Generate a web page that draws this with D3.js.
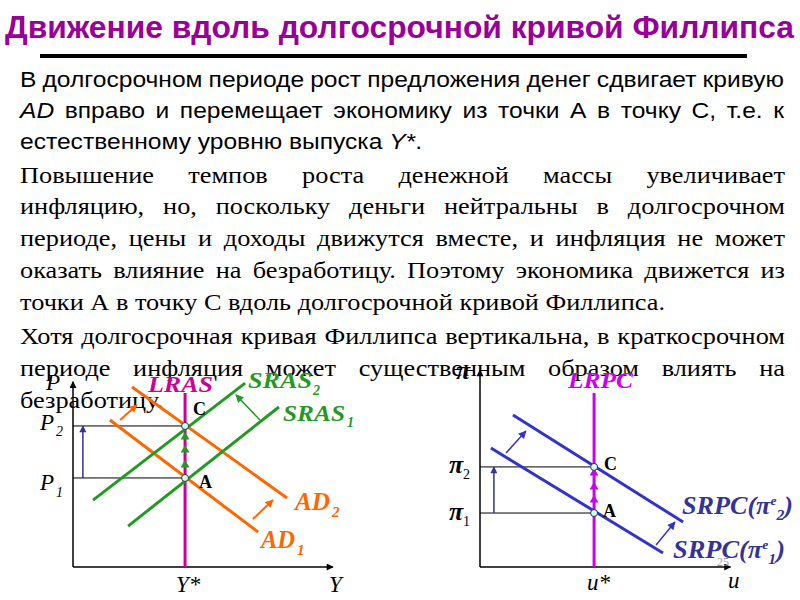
<!DOCTYPE html>
<html>
<head>
<meta charset="utf-8">
<script src="https://cdn.jsdelivr.net/npm/d3@7"></script>
<style>
  html, body { margin: 0; padding: 0; background: #fff; }
  svg { display: block; }
</style>
</head>
<body>
<svg id="slide" width="800" height="600"></svg>
<script>
// slide text
const titleText = 'Движение вдоль долгосрочной кривой Филлипса'
const para1 = [
  'В долгосрочном периоде рост предложения денег сдвигает кривую',
  '{AD} вправо и перемещает экономику из точки А в точку С, т.е. к',
  'естественному уровню выпуска {Y*}.'
]
const para2 = [
  'Повышение темпов роста денежной массы увеличивает',
  'инфляцию, но, поскольку деньги нейтральны в долгосрочном',
  'периоде, цены и доходы движутся вместе, и инфляция не может',
  'оказать влияние на безработицу. Поэтому экономика движется из',
  'точки А в точку С вдоль долгосрочной кривой Филлипса.'
]
const para3 = [
  'Хотя долгосрочная кривая Филлипса вертикальна, в краткосрочном',
  'периоде инфляция может существенным образом влиять на',
  'безработицу.'
]

// AD-AS diagram (units 0..100 on both axes)
const yStar = 43.1
const p1 = 45.9
const p2 = 72.7
const lrasTop = 89.7
const ad1 = [[14.2, 75.8], [71.2, 18.0]]
const ad2 = [[22.7, 92.8], [82.3, 35.6]]
const sras1 = [[21.2, 21.1], [79.2, 82.5]]
const sras2 = [[7.7, 34.5], [66.2, 94.8]]
const adShifts = [[[18.1, 75.8], [24.6, 83.5]], [[69.2, 24.7], [76.9, 34.5]]]
const srasShift = [[71.9, 75.8], [62.7, 88.7]]
const lrasSteps = [52.6, 60.3, 67.0]

// Phillips diagram (units 0..100 on both axes)
const uStar = 46.0
const pi1 = 27.4
const pi2 = 50.8
const lrpcTop = 88.3
const srpc1 = [[4.4, 60.4], [73.8, 7.1]]
const srpc2 = [[13.3, 77.2], [81.9, 22.8]]
const srpcShifts = [[[10.5, 57.9], [18.5, 69.0]], [[71.0, 11.2], [78.6, 22.8]]]
const lrpcSteps = [34.0, 40.6, 47.7]

const ORANGE = '#ff6600'
const GREEN = '#229a22'
const LRAS_C = '#cc0099'
const LRPC_C = '#cc00ee'
const BLUE = '#3333cc'
const NAVY = '#333399'

const svg = d3.select('#slide')
const defs = svg.append('defs')

function marker(id, color, w, h) {
  defs.append('marker')
    .attr('id', id)
    .attr('viewBox', '0 0 10 10')
    .attr('refX', 9).attr('refY', 5)
    .attr('markerUnits', 'userSpaceOnUse')
    .attr('markerWidth', w).attr('markerHeight', h)
    .attr('orient', 'auto')
    .append('path')
    .attr('d', 'M0,0 L10,5 L0,10 Z')
    .attr('fill', color)
}
marker('arrBlack', '#000', 9, 7)
marker('arrOrange', ORANGE, 10, 8)
marker('arrGreen', GREEN, 10, 8)
marker('arrNavy', NAVY, 9, 7)
marker('arrBlue', BLUE, 10, 8)

// title
svg.append('text')
  .attr('x', 5).attr('y', 38)
  .attr('textLength', 789).attr('lengthAdjust', 'spacingAndGlyphs')
  .style('font-family', '"Liberation Sans", Arial, sans-serif')
  .style('font-weight', 'bold')
  .style('font-size', '32px')
  .style('fill', '#990099')
  .text(titleText)

svg.append('rect')
  .attr('x', 40).attr('y', 54).attr('width', 707).attr('height', 4)
  .attr('fill', '#000')

// word with {italic} parts
function fillWord(sel, word) {
  word.split(/(\{[^}]*\})/).filter(s => s.length).forEach(function (part) {
    if (part[0] === '{') {
      sel.append('tspan').style('font-style', 'italic').text(part.slice(1, -1))
    } else {
      sel.append('tspan').text(part)
    }
  })
}

function drawParagraph(lines, baselines, o) {
  const g = svg.append('g')
    .style('font-family', o.font)
    .style('font-size', o.size + 'px')
    .style('fill', '#000')
  const full = o.x1 - o.x0

  // horizontal scale taken from the last (non-justified) line
  const probe = g.append('text').attr('x', o.x0).attr('y', -100)
  fillWord(probe, lines[lines.length - 1])
  let sx = (o.lastEnd - o.x0) / probe.node().getComputedTextLength()
  if (o.sx) sx = o.sx
  probe.remove()

  lines.forEach(function (line, i) {
    const y = baselines[i]
    if (i === lines.length - 1) {
      const t = g.append('text').attr('x', o.x0).attr('y', y)
      fillWord(t, line)
      const w = t.node().getComputedTextLength()
      t.attr('textLength', w * sx).attr('lengthAdjust', 'spacingAndGlyphs')
      return
    }
    const words = line.split(' ')
    const nodes = words.map(function (w) {
      const t = g.append('text').attr('y', y)
      fillWord(t, w)
      return { t: t, w: t.node().getComputedTextLength() }
    })
    const sum = d3.sum(nodes, d => d.w)
    let k = sx
    let gap = (full - sum * k) / (words.length - 1)
    if (gap < 0.22 * o.size) {
      gap = 0.22 * o.size
      k = (full - gap * (words.length - 1)) / sum
    }
    let x = o.x0
    nodes.forEach(function (d) {
      d.t.attr('x', x)
        .attr('textLength', d.w * k)
        .attr('lengthAdjust', 'spacingAndGlyphs')
      x += d.w * k + gap
    })
  })
  return sx
}

const sansFont = '"Liberation Sans", Arial, sans-serif'
const serifFont = '"Liberation Serif", "Times New Roman", serif'
drawParagraph(para1, [87, 118, 149], { font: sansFont, size: 22, x0: 20, x1: 784, lastEnd: 422 })
const serifSx = drawParagraph(para2, [183, 214, 246, 278, 310], { font: serifFont, size: 23, x0: 20, x1: 785, lastEnd: 665 })
drawParagraph(para3, [344, 376, 408], { font: serifFont, size: 23, x0: 20, x1: 785, lastEnd: 162, sx: serifSx })

// helpers for diagrams
function label(g, x, y, main, sub, o) {
  const t = g.append('text')
    .attr('x', x).attr('y', y)
    .style('font-family', serifFont)
    .style('font-size', o.size + 'px')
    .style('font-style', o.italic ? 'italic' : 'normal')
    .style('font-weight', o.bold ? 'bold' : 'normal')
    .style('fill', o.color || '#000')
  t.append('tspan').text(main)
  if (o.len) t.attr('textLength', o.len).attr('lengthAdjust', 'spacingAndGlyphs')
  if (sub) {
    g.append('text')
      .attr('x', o.subX).attr('y', y + (o.subDy || 6))
      .style('font-family', serifFont)
      .style('font-size', (o.subSize || 14) + 'px')
      .style('font-style', o.subItalic === false ? 'normal' : (o.italic ? 'italic' : 'normal'))
      .style('font-weight', o.subBold === false ? 'normal' : (o.bold ? 'bold' : 'normal'))
      .style('fill', o.color || '#000')
      .text(sub)
  }
  return t
}

function seg(g, x, y, pts, color, width, mk) {
  const l = g.append('line')
    .attr('x1', x(pts[0][0])).attr('y1', y(pts[0][1]))
    .attr('x2', x(pts[1][0])).attr('y2', y(pts[1][1]))
    .attr('stroke', color).attr('stroke-width', width)
  if (mk) l.attr('marker-end', 'url(#' + mk + ')')
  return l
}

function axes(g, x, y, xEnd, yEnd) {
  seg(g, x, y, [[0, 0], [xEnd, 0]], '#000', 1.5, 'arrBlack')
  seg(g, x, y, [[0, 0], [0, yEnd]], '#000', 1.5, 'arrBlack')
}

function pointMark(g, cx, cy) {
  g.append('circle').attr('cx', cx).attr('cy', cy).attr('r', 3.5)
    .attr('fill', '#ccffff').attr('stroke', '#333').attr('stroke-width', 1)
}

// ---------- AD-AS diagram ----------
const xL = d3.scaleLinear().domain([0, 100]).range([73, 333])
const yL = d3.scaleLinear().domain([0, 100]).range([567, 373])
const gL = svg.append('g')

seg(gL, xL, yL, [[0, p2], [yStar, p2]], '#000', 1)
seg(gL, xL, yL, [[0, p1], [yStar, p1]], '#000', 1)
seg(gL, xL, yL, [[3.8, p1], [3.8, p2]], NAVY, 1.5, 'arrNavy')
axes(gL, xL, yL, 100, 95.5)

seg(gL, xL, yL, [[yStar, 0], [yStar, lrasTop]], LRAS_C, 3)
seg(gL, xL, yL, ad1, ORANGE, 3)
seg(gL, xL, yL, ad2, ORANGE, 3)
seg(gL, xL, yL, sras1, GREEN, 3)
seg(gL, xL, yL, sras2, GREEN, 3)
adShifts.forEach(a => seg(gL, xL, yL, a, ORANGE, 2, 'arrOrange'))
seg(gL, xL, yL, srasShift, GREEN, 1.5, 'arrGreen')

gL.selectAll('.step').data(lrasSteps).enter().append('path')
  .attr('class', 'step')
  .attr('d', d3.symbol(d3.symbolTriangle, 34))
  .attr('transform', d => 'translate(' + xL(yStar) + ',' + yL(d) + ')')
  .attr('fill', GREEN)

pointMark(gL, xL(yStar), yL(p2))
pointMark(gL, xL(yStar), yL(p1))

label(gL, 193, 415, 'C', null, { size: 18, bold: true })
label(gL, 199, 488, 'A', null, { size: 18, bold: true })
label(gL, 46, 390, 'P', null, { size: 23, italic: true })
label(gL, 40, 430, 'P', '2', { size: 23, italic: true, subX: 56, subDy: 6, subSize: 14 })
label(gL, 40, 490, 'P', '1', { size: 23, italic: true, subX: 56, subDy: 7, subSize: 14 })
label(gL, 176, 592, 'Y*', null, { size: 23, italic: true })
label(gL, 329, 592, 'Y', null, { size: 23, italic: true })
label(gL, 148, 392, 'LRAS', null, { size: 23, italic: true, bold: true, color: LRAS_C, len: 65 })
label(gL, 248, 388, 'SRAS', '2', { size: 23, italic: true, bold: true, color: GREEN, len: 64, subX: 313, subDy: 7, subSize: 14 })
label(gL, 283, 421, 'SRAS', '1', { size: 23, italic: true, bold: true, color: GREEN, len: 62, subX: 347, subDy: 6, subSize: 14 })
label(gL, 295, 510, 'AD', '2', { size: 25, italic: true, bold: true, color: ORANGE, len: 35, subX: 332, subDy: 7, subSize: 15 })
label(gL, 261, 548, 'AD', '1', { size: 25, italic: true, bold: true, color: ORANGE, len: 34, subX: 297, subDy: 7, subSize: 15 })

// ---------- Phillips diagram ----------
const xR = d3.scaleLinear().domain([0, 100]).range([480, 728])
const yR = d3.scaleLinear().domain([0, 100]).range([567, 370])
const gR = svg.append('g')

seg(gR, xR, yR, [[0, pi2], [uStar, pi2]], '#000', 1)
seg(gR, xR, yR, [[0, pi1], [uStar, pi1]], '#000', 1)
seg(gR, xR, yR, [[5.6, pi1], [5.6, pi2]], NAVY, 1.5, 'arrNavy')
axes(gR, xR, yR, 101, 100)

seg(gR, xR, yR, [[uStar, 0], [uStar, lrpcTop]], LRPC_C, 3)
seg(gR, xR, yR, srpc1, BLUE, 3)
seg(gR, xR, yR, srpc2, BLUE, 3)
srpcShifts.forEach(a => seg(gR, xR, yR, a, BLUE, 1.5, 'arrBlue'))

gR.selectAll('.step').data(lrpcSteps).enter().append('path')
  .attr('class', 'step')
  .attr('d', d3.symbol(d3.symbolTriangle, 34))
  .attr('transform', d => 'translate(' + xR(uStar) + ',' + yR(d) + ')')
  .attr('fill', LRPC_C)

pointMark(gR, xR(uStar), yR(pi2))
pointMark(gR, xR(uStar), yR(pi1))

label(gR, 604, 470, 'C', null, { size: 18, bold: true })
label(gR, 603, 517, 'A', null, { size: 18, bold: true })
label(gR, 456, 379, 'π', null, { size: 26, italic: true, bold: true })
label(gR, 449, 473, 'π', '2', { size: 26, italic: true, bold: true, subX: 463, subDy: 0, subSize: 14, subBold: false, subItalic: false })
label(gR, 449, 520, 'π', '1', { size: 26, italic: true, bold: true, subX: 463, subDy: 0, subSize: 14, subBold: false, subItalic: false })
label(gR, 587, 590, 'u*', null, { size: 23, italic: true })
label(gR, 728, 588, 'u', null, { size: 23, italic: true })
label(gR, 568, 388, 'LRPC', null, { size: 23, italic: true, bold: true, color: LRPC_C, len: 65 })

function srpcLabel(x, y, sub, len) {
  const t = gR.append('text')
    .attr('x', x).attr('y', y)
    .style('font-family', serifFont)
    .style('font-size', '25px')
    .style('font-style', 'italic')
    .style('font-weight', 'bold')
    .style('fill', NAVY)
  t.append('tspan').text('SRPC(π')
  t.append('tspan').attr('dy', -9).style('font-size', '13px').text('e')
  t.append('tspan').attr('dy', 15).style('font-size', '15px').text(sub)
  t.append('tspan').attr('dy', -6).text(')')
  t.attr('textLength', len).attr('lengthAdjust', 'spacingAndGlyphs')
}
srpcLabel(682, 514, '2', 111)
srpcLabel(673, 558, '1', 112)

gR.append('text')
  .attr('x', 717).attr('y', 566)
  .style('font-family', serifFont).style('font-size', '12px')
  .style('fill', '#999')
  .text('25')
</script>
</body>
</html>
